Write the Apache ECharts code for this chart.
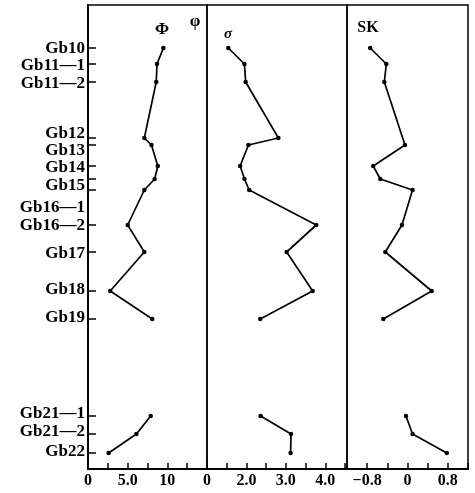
<!DOCTYPE html>
<html><head><meta charset="utf-8">
<script src="https://cdn.jsdelivr.net/npm/echarts@6/dist/echarts.min.js"></script>
<style>html,body{margin:0;padding:0;background:#fff}#c{width:475px;height:493px}</style>
</head><body><div id="c"></div>
<script>
// ---- data ----
const samples = ['Gb10','Gb11—1','Gb11—2','Gb12','Gb13','Gb14','Gb15','Gb16—1','Gb16—2','Gb17','Gb18','Gb19','Gb21—1','Gb21—2','Gb22'];
const depth = [43,59,77,133,140,161,174,185,220,247,286,314,411,429,448];
const phi = [9.5,8.7,8.6,7.1,8.0,8.8,8.4,7.1,5.0,7.1,2.8,8.1,7.9,6.1,2.6];
const sigma = [1.54,1.95,1.98,2.81,2.05,1.84,1.95,2.07,3.77,3.02,3.68,2.35,2.36,3.13,3.12];
const sk = [-0.74,-0.42,-0.46,null,-0.05,-0.68,-0.54,0.10,-0.11,-0.44,0.48,-0.48,-0.03,0.10,0.78];
const breakBefore = 'Gb21—1';
const phiTickLabels = {'0':'0','5':'5.0','10':'10'};
const sigmaTickLabels = {'1':'0','2':'2.0','3':'3.0','4':'4.0'};
const skTickLabels = {'-0.8':'−0.8','0':'0','0.8':'0.8'};

// ---- layout ----
const labelShift = [1,2,2,-4,6,2,7,18,1,2,-1,-1,-2,-2,-1];
const labelPos = depth.map((d,i)=>d+labelShift[i]);
const labelMap = {};
labelPos.forEach((p,i)=>{labelMap[String(p)] = samples[i];});

const FONT = 'Liberation Serif';
const black = '#000';

function segments(vals){
  const segs=[[]];
  samples.forEach((s,i)=>{
    if(s===breakBefore) segs.push([]);
    if(vals[i]==null) return;
    segs[segs.length-1].push([vals[i], depth[i]]);
  });
  return segs;
}
function key(v){ return String(Math.round(v*10)/10); }

const grids = [
  {left:88, top:5, width:119, height:464},
  {left:207, top:5, width:140, height:464},
  {left:347, top:5, width:121, height:464}
].map(g=>Object.assign(g,{show:true, borderColor:black, borderWidth:1.5, backgroundColor:'transparent'}));

function xAxis(gi,min,max,interval,labels){
  return {gridIndex:gi, type:'value', min:min, max:max, interval:interval,
    axisLine:{show:true, onZero:false, lineStyle:{color:black,width:2}},
    axisTick:{show:true, inside:true, length:6, lineStyle:{color:black,width:1.5}},
    axisLabel:{formatter:v=>labels[key(v)]||'', color:black, fontFamily:FONT, fontWeight:'bold', fontSize:16, margin:4, showMinLabel:true, showMaxLabel:true},
    splitLine:{show:false}};
}
function yAxis(gi,showIt){
  const a = {gridIndex:gi, type:'value', inverse:true, min:0, max:464, splitLine:{show:false}};
  if(!showIt){ a.axisLine={show:false}; a.axisTick={show:false}; a.axisLabel={show:false}; return a; }
  a.axisLine={show:true, onZero:false, lineStyle:{color:black,width:2}};
  a.axisTick={show:true, inside:true, length:8, customValues:depth, lineStyle:{color:black,width:1.5}};
  a.axisLabel={show:true, customValues:labelPos, formatter:v=>labelMap[String(v)]||'', color:black, fontFamily:FONT, fontWeight:'bold', fontSize:17, margin:3};
  return a;
}

const series=[];
[phi,sigma,sk].forEach((vals,gi)=>{
  segments(vals).forEach(seg=>{
    series.push({type:'line', xAxisIndex:gi, yAxisIndex:gi, data:seg, symbol:'circle', symbolSize:4.5,
      lineStyle:{color:black,width:1.7}, itemStyle:{color:black}, silent:true});
  });
});

function txt(x,y,t,size,style){
  return {type:'text', x:x, y:y, style:{text:t, fill:black, font:(style||'')+' bold '+size+'px "'+FONT+'"', textAlign:'center', textVerticalAlign:'middle'}};
}

const chart = echarts.init(document.getElementById('c'), null, {renderer:'canvas'});
chart.setOption({
  animation:false,
  backgroundColor:'#fff',
  grid:grids,
  xAxis:[xAxis(0,0,15,2.5,phiTickLabels), xAxis(1,1,4.55,0.5,sigmaTickLabels), xAxis(2,-1.2,1.2,0.4,skTickLabels)],
  yAxis:[yAxis(0,true), yAxis(1,false), yAxis(2,false)],
  series:series,
  graphic:[txt(162,30,'Φ',17), txt(195,22,'φ',17), txt(228,34,'σ',15,'italic'), txt(368,28,'SK',16)]
});
</script></body></html>
